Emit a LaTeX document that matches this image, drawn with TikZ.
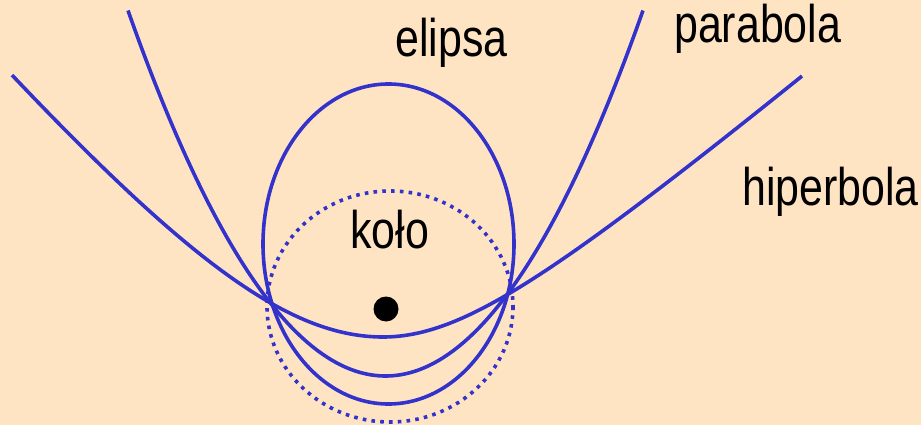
\documentclass[tikz,border=0pt]{standalone}
\usepackage{fontspec}
\newfontfamily\narrowsans[FakeStretch=0.81]{Liberation Sans}
\definecolor{bg}{RGB}{255,228,196}
\definecolor{curve}{RGB}{51,51,204}
\tikzset{
  conic/.style={draw=curve, line width=3.6pt, line join=round},
  dottedconic/.style={draw=curve, line width=3.6pt, dash pattern=on 3.6pt off 5.2pt},
  label/.style={inner sep=0pt, anchor=base west, font=\narrowsans\fontsize{53}{60}\selectfont, text=black}
}
\begin{document}
\begin{tikzpicture}[x=1pt,y=-1pt]
\fill[bg] (0,0) rectangle (921,425);
\useasboundingbox (0,0) rectangle (921,425);
% dotted circle (kolo)
\draw[dottedconic] (390,306.5) ellipse [x radius=123, y radius=115.5];
% ellipse
\draw[conic] (388.5,244) ellipse [x radius=125.5, y radius=160];
% parabola
\draw[conic] plot[domain=128:643, samples=120, smooth] (\x, {376-365.5*((\x-385.5)/257.5)^2});
% hyperbola (two halves meeting at the vertex)
\draw[conic] plot[domain=12:383, samples=100, smooth] (\x, {337-(256*sqrt(1+1.473*((\x-383)/256)^2)-256)});
\draw[conic] plot[domain=383:802, samples=100, smooth] (\x, {337-(107.9*sqrt(1+0.7087*((\x-383)/107.9)^2)-107.9)});
% focus
\fill[black] (386,309) circle [radius=12.5];
% labels
\node[label] (parabola) at (674,43) {parabola};
\node[label] (hiperbola) at (742,205) {hiperbola};
\node[label] (elipsa) at (395,57) {elipsa};
\node[label] (kolo) at (350,248) {koło};
\end{tikzpicture}
\end{document}
